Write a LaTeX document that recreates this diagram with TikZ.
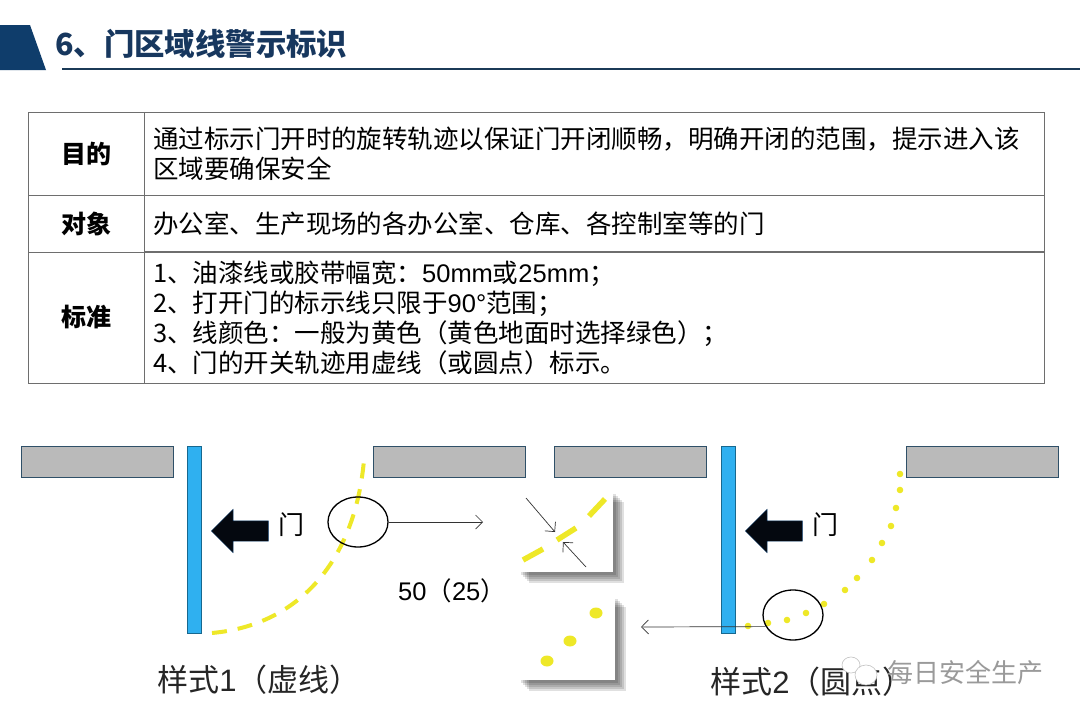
\documentclass[tikz,border=0pt]{standalone}
\usepackage{fontspec}
\setmainfont{Noto Sans CJK SC}
\newfontfamily\latinfont{Liberation Sans}
\usetikzlibrary{arrows.meta,positioning,shadows,shapes.arrows,shapes.geometric}
\definecolor{Navy}{HTML}{0F3D6B}
\definecolor{TitleInk}{HTML}{17375E}
\definecolor{RuleInk}{HTML}{1B3A57}
\definecolor{TableLine}{HTML}{6E6E6E}
\definecolor{WallFill}{HTML}{BABABA}
\definecolor{WallLine}{HTML}{2F5068}
\definecolor{DoorFill}{HTML}{2FB0F0}
\definecolor{DoorLine}{HTML}{17688F}
\definecolor{Mark}{HTML}{EEE828}
\definecolor{ArrowInk}{HTML}{04080F}
\definecolor{Stamp}{HTML}{9A9A9A}
\newcommand{\la}[1]{{\latinfont #1}}
\tikzset{
  headcell/.style={
    draw=TableLine, line width=1pt, outer sep=0pt, inner sep=0pt, minimum width=116pt,
    font=\fontsize{25}{30}\selectfont\bfseries
  },
  bodycell/.style={
    draw=TableLine, line width=1pt, outer sep=0pt, inner sep=9pt, minimum width=900pt,
    text width=882pt, align=left, font=\fontsize{25.5}{30}\selectfont
  },
  wall/.style={draw=WallLine, line width=1.2pt, fill=WallFill, minimum width=152pt, minimum height=31pt, inner sep=0pt},
  leaf/.style={draw=DoorLine, line width=1pt, fill=DoorFill, minimum width=14pt, minimum height=187pt, inner sep=0pt},
  pointer/.style={
    single arrow, shape border rotate=180, fill=ArrowInk, draw=Navy, minimum height=57pt,
    minimum width=43pt, inner sep=10pt, single arrow head extend=11.5pt
  },
  doorname/.style={font=\fontsize{26}{30}\selectfont\fontseries{l}\selectfont},
  lens/.style={ellipse, draw=black, line width=1.3pt, minimum width=60pt, minimum height=50pt, inner sep=0pt},
  softshade/.style={drop shadow={shadow xshift=#1, shadow yshift=-#1, fill=black, opacity=0.12}},
  tile/.style={
    fill=white, inner sep=0pt,
    softshade=11pt, softshade=9pt, softshade=7pt, softshade=5pt, softshade=3pt
  },
  caption/.style={text=black!85, font=\fontsize{31}{36}\selectfont},
  track/.style={draw=Mark, line width=4pt},
  thin/.style={-{Straight Barb[length=7pt]}, line width=0.7pt, draw=black!80}
}
\begin{document}
\begin{tikzpicture}[x=1pt,y=-1pt]
  \useasboundingbox (0,0) rectangle (1080,720);
  \fill[white] (0,0) rectangle (1080,720);
  % header
  \fill[Navy] (0,25) -- (30,25) -- (46,70) -- (0,70) -- cycle;
  \draw[RuleInk,line width=2.4pt] (62,69) -- (1080,69);
  \node[anchor=west,text=TitleInk,inner sep=0pt,font=\fontsize{30.4}{34}\selectfont\bfseries] (title) at (55,44) {6、门区域线警示标识};
  % table
  \node[headcell,minimum height=83pt,anchor=north west] (goal) at (28,112) {目的};
  \node[bodycell,minimum height=83pt,right=0pt of goal] (goaltext) {通过标示门开时的旋转轨迹以保证门开闭顺畅，明确开闭的范围，提示进入该\\区域要确保安全};
  \node[headcell,minimum height=57pt,below=0pt of goal] (object) {对象};
  \node[bodycell,minimum height=57pt,right=0pt of object] (objecttext) {办公室、生产现场的各办公室、仓库、各控制室等的门};
  \node[headcell,minimum height=131pt,below=0pt of object] (rule) {标准};
  \node[bodycell,minimum height=131pt,right=0pt of rule] (ruletext) {1、油漆线或胶带幅宽：\la{50mm}或\la{25mm}；\\2、打开门的标示线只限于\la{90°}范围；\\3、线颜色：一般为黄色（黄色地面时选择绿色）；\\4、门的开关轨迹用虚线（或圆点）标示。};
  % style 1
  \node[wall,anchor=north west] (wallA) at (21,446) {};
  \node[wall,anchor=north west] (wallB) at (373,446) {};
  \node[leaf,anchor=north west] (leafA) at (187,446) {};
  \node[pointer] (pointerA) at (245,531) {};
  \node[doorname] (nameA) at (291,525) {门};
  \draw[track,dash pattern=on 15pt off 11pt] (212,633) .. controls (300,625) and (355,560) .. (364,460);
  \node[lens] (lensA) at (358,522) {};
  \coordinate (lensAend) at (483,522);
  \draw[thin] (lensA.east) -- (lensAend);
  \node[font=\fontsize{25.5}{30}\selectfont] (width) at (452,591) {\la{50}（\la{25}）};
  \node[caption] (captionA) at (259,680) {样式\la{1}（虚线）};
  % insets
  \node[tile,minimum width=95pt,minimum height=81pt,anchor=north west] (tileA) at (518,491) {};
  \node[tile,minimum width=97pt,minimum height=84pt,anchor=north west] (tileB) at (518,596) {};
  \draw[Mark,line width=5.5pt] (589,516) -- (605,499) (557,540) -- (576,528) (523,560) -- (543,549);
  \coordinate (gapA) at (526,498);
  \coordinate (gapB) at (555,532);
  \coordinate (gapC) at (586,567);
  \coordinate (gapD) at (563,542);
  \draw[thin] (gapA) -- (gapB);
  \draw[thin] (gapC) -- (gapD);
  \fill[Mark] (547,661) ellipse (6.5pt and 5.5pt) (570,641) ellipse (6.5pt and 5.5pt) (596,613) ellipse (6.5pt and 5.5pt);
  % style 2
  \node[wall,anchor=north west] (wallC) at (554,446) {};
  \node[wall,anchor=north west] (wallD) at (906,446) {};
  \node[leaf,anchor=north west] (leafB) at (721,446) {};
  \node[pointer] (pointerB) at (779,531) {};
  \node[doorname] (nameB) at (825,525) {门};
  \foreach \px/\py in {748/626,768/623,787/620,806/613,824/604,845/590,857/578,872/560,882/543,891/526,896/508,900/490,900/474}
    \fill[Mark] (\px,\py) circle (3.3pt);
  \node[lens] (lensB) at (793,615) {};
  \coordinate (lensBend) at (641,627);
  \draw[thin] (lensB.203) -- (lensBend);
  \node[caption] (captionB) at (812,682) {样式\la{2}（圆点）};
  % stamp
  \fill[white,draw=Stamp!60,line width=.6pt] (851,665) ellipse (9pt and 8pt);
  \fill[white,draw=Stamp!60,line width=.6pt] (866,675) ellipse (11pt and 10pt);
  \node[anchor=west,inner sep=0pt,text=Stamp,font=\fontsize{26}{30}\selectfont] (stamp) at (887,673) {每日安全生产};
\end{tikzpicture}
\end{document}
